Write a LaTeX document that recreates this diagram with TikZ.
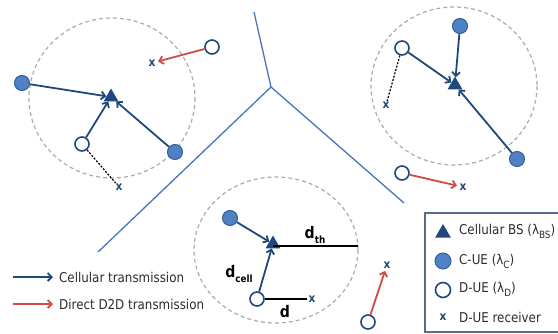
\documentclass[tikz,border=0pt]{standalone}
\usepackage{fontspec}
\setmainfont{DejaVu Sans}[FakeStretch=0.88]
\usetikzlibrary{shapes.geometric,arrows.meta}

\definecolor{navy}{RGB}{31,73,125}
\definecolor{cuefill}{RGB}{79,129,196}
\definecolor{d2dred}{RGB}{206,76,72}
\definecolor{cellline}{RGB}{72,118,188}
\definecolor{rangegray}{RGB}{172,172,172}
\definecolor{legtext}{RGB}{45,45,45}
\definecolor{legframe}{RGB}{88,108,140}

\tikzset{
  bsnode/.style={regular polygon, regular polygon sides=3, fill=navy,
             inner sep=0pt, minimum size=17pt},
  cuenode/.style={circle, fill=cuefill, draw=navy!60!cuefill, line width=1pt,
              minimum size=15pt, inner sep=0pt},
  duenode/.style={circle, fill=white, draw=navy, line width=1.6pt,
              minimum size=14pt, inner sep=0pt},
  rxnode/.style={font=\bfseries\fontsize{12}{12}\selectfont, text=navy,
             inner sep=0.5pt},
  barbtip/.style={-{Straight Barb[length=4pt,width=8pt]}},
  uplink/.style={draw=navy, line width=1.8pt, barbtip},
  d2dlink/.style={draw=d2dred, line width=1.8pt, barbtip},
  coverage/.style={draw=rangegray, line width=1.2pt, dash pattern=on 4pt off 3pt},
  pairlink/.style={draw=black, line width=1.2pt, dash pattern=on 2pt off 1.5pt},
  cellborder/.style={draw=cellline, line width=1.3pt},
  distline/.style={draw=black, line width=1.5pt},
  distlbl/.style={font=\bfseries\fontsize{16}{16}\selectfont, text=black, inner sep=0pt},
  legtxt/.style={font=\fontsize{13.5}{14}\selectfont, text=legtext, anchor=west, inner sep=0pt},
  legbox/.style={draw=legframe, line width=1.2pt, fill=white}
}

\newcommand{\subsc}[1]{\raisebox{-0.3em}{\fontsize{10}{10}\selectfont #1}}

\begin{document}
\begin{tikzpicture}[x=1pt, y=-1pt]
  \clip (0,0) rectangle (558,333);
  \fill[white] (0,0) rectangle (558,333);

  % coverage ranges of the three base stations
  \draw[coverage] (112,98) ellipse [x radius=83, y radius=80];
  \draw[coverage] (454,86) ellipse [x radius=83, y radius=79];
  \draw[coverage] (276,250) ellipse [x radius=82, y radius=73];

  % cell borders
  \coordinate (vj) at (271,87);
  \coordinate (vtop) at (254,12);
  \coordinate (vleft) at (98,252);
  \coordinate (vright) at (404,203);
  \draw[cellborder] (vtop) -- (vj) -- (vleft);
  \draw[cellborder] (vj) -- (vright);

  % left cell
  \node[bsnode]  (bsL)  at (111,97) {};
  \node[cuenode] (cL1)  at (22,83) {};
  \node[cuenode] (cL2)  at (175,152) {};
  \node[duenode] (dL1)  at (82,144) {};
  \node[rxnode]  (rxL1) at (119,187) {x};
  \node[duenode] (dL2)  at (212,47) {};
  \node[rxnode]  (rxL2) at (152,63) {x};

  % right cell
  \node[bsnode]  (bsR)  at (455,85) {};
  \node[cuenode] (cR1)  at (460,26) {};
  \node[cuenode] (cR2)  at (517,159) {};
  \node[duenode] (dR1)  at (402,48) {};
  \node[rxnode]  (rxR1) at (386,105) {x};
  \node[duenode] (dR2)  at (402,173) {};
  \node[rxnode]  (rxR2) at (463,187) {x};

  % bottom cell
  \node[bsnode]  (bsB)  at (273,244) {};
  \node[cuenode] (cB)   at (230,218) {};
  \node[duenode] (dB)   at (257,299) {};
  \node[rxnode]  (rxB)  at (312,299) {x};
  \coordinate (dth) at (358,246);

  % isolated D2D pair
  \node[duenode] (dF)   at (368,322) {};
  \node[rxnode]  (rxF)  at (387,265) {x};

  % uplinks to the base stations
  \draw[uplink] (cL1) -- (bsL);
  \draw[uplink] (cL2) -- (bsL);
  \draw[uplink] (dL1) -- (bsL);
  \draw[uplink] (cR1) -- (bsR);
  \draw[uplink] (cR2) -- (bsR);
  \draw[uplink] (dR1) -- (bsR);
  \draw[uplink] (cB) -- (bsB);
  \draw[uplink] (dB) -- (bsB);

  % direct D2D links
  \draw[d2dlink, shorten >=2pt] (dL2) -- (rxL2);
  \draw[d2dlink, shorten >=2pt] (dR2) -- (rxR2);
  \draw[d2dlink, shorten >=2pt] (dF) -- (rxF);

  % pairs that fall back to cellular mode
  \draw[pairlink] (dL1) -- (rxL1);
  \draw[pairlink] (dR1) -- (rxR1);

  % distances
  \draw[distline] (bsB.center |- dth) -- (dth);
  \draw[distline, shorten >=1pt] (dB) -- (rxB);
  \node[distlbl] (lth)   at (315,235) {d\subsc{th}};
  \node[distlbl] (lcell) at (239,274) {d\subsc{cell}};
  \node[distlbl] (ld)    at (285,312) {d};

  % link legend
  \coordinate (la1) at (13,277);
  \coordinate (lb1) at (53,277);
  \coordinate (la2) at (13,304);
  \coordinate (lb2) at (53,304);
  \draw[uplink] (la1) -- (lb1);
  \draw[d2dlink] (la2) -- (lb2);
  \node[legtxt] (tcell) at (59,277) {Cellular transmission};
  \node[legtxt] (td2d)  at (59,304) {Direct D2D transmission};

  % symbol legend
  \draw[legbox] (425,213) rectangle (575,332);
  \node[bsnode, minimum size=18pt] (kbs) at (443,233) {};
  \node[cuenode, minimum size=16pt] (kc) at (443,261) {};
  \node[duenode, minimum size=15pt] (kd) at (443,290) {};
  \node[rxnode] (kx) at (443,317) {x};
  \node[legtxt] (kbst) at (459,231) {Cellular BS (λ\subsc{BS})};
  \node[legtxt] (kct)  at (459,261) {C-UE (λ\subsc{C})};
  \node[legtxt] (kdt)  at (459,289) {D-UE (λ\subsc{D})};
  \node[legtxt] (kxt)  at (459,317) {D-UE receiver};
\end{tikzpicture}
\end{document}
